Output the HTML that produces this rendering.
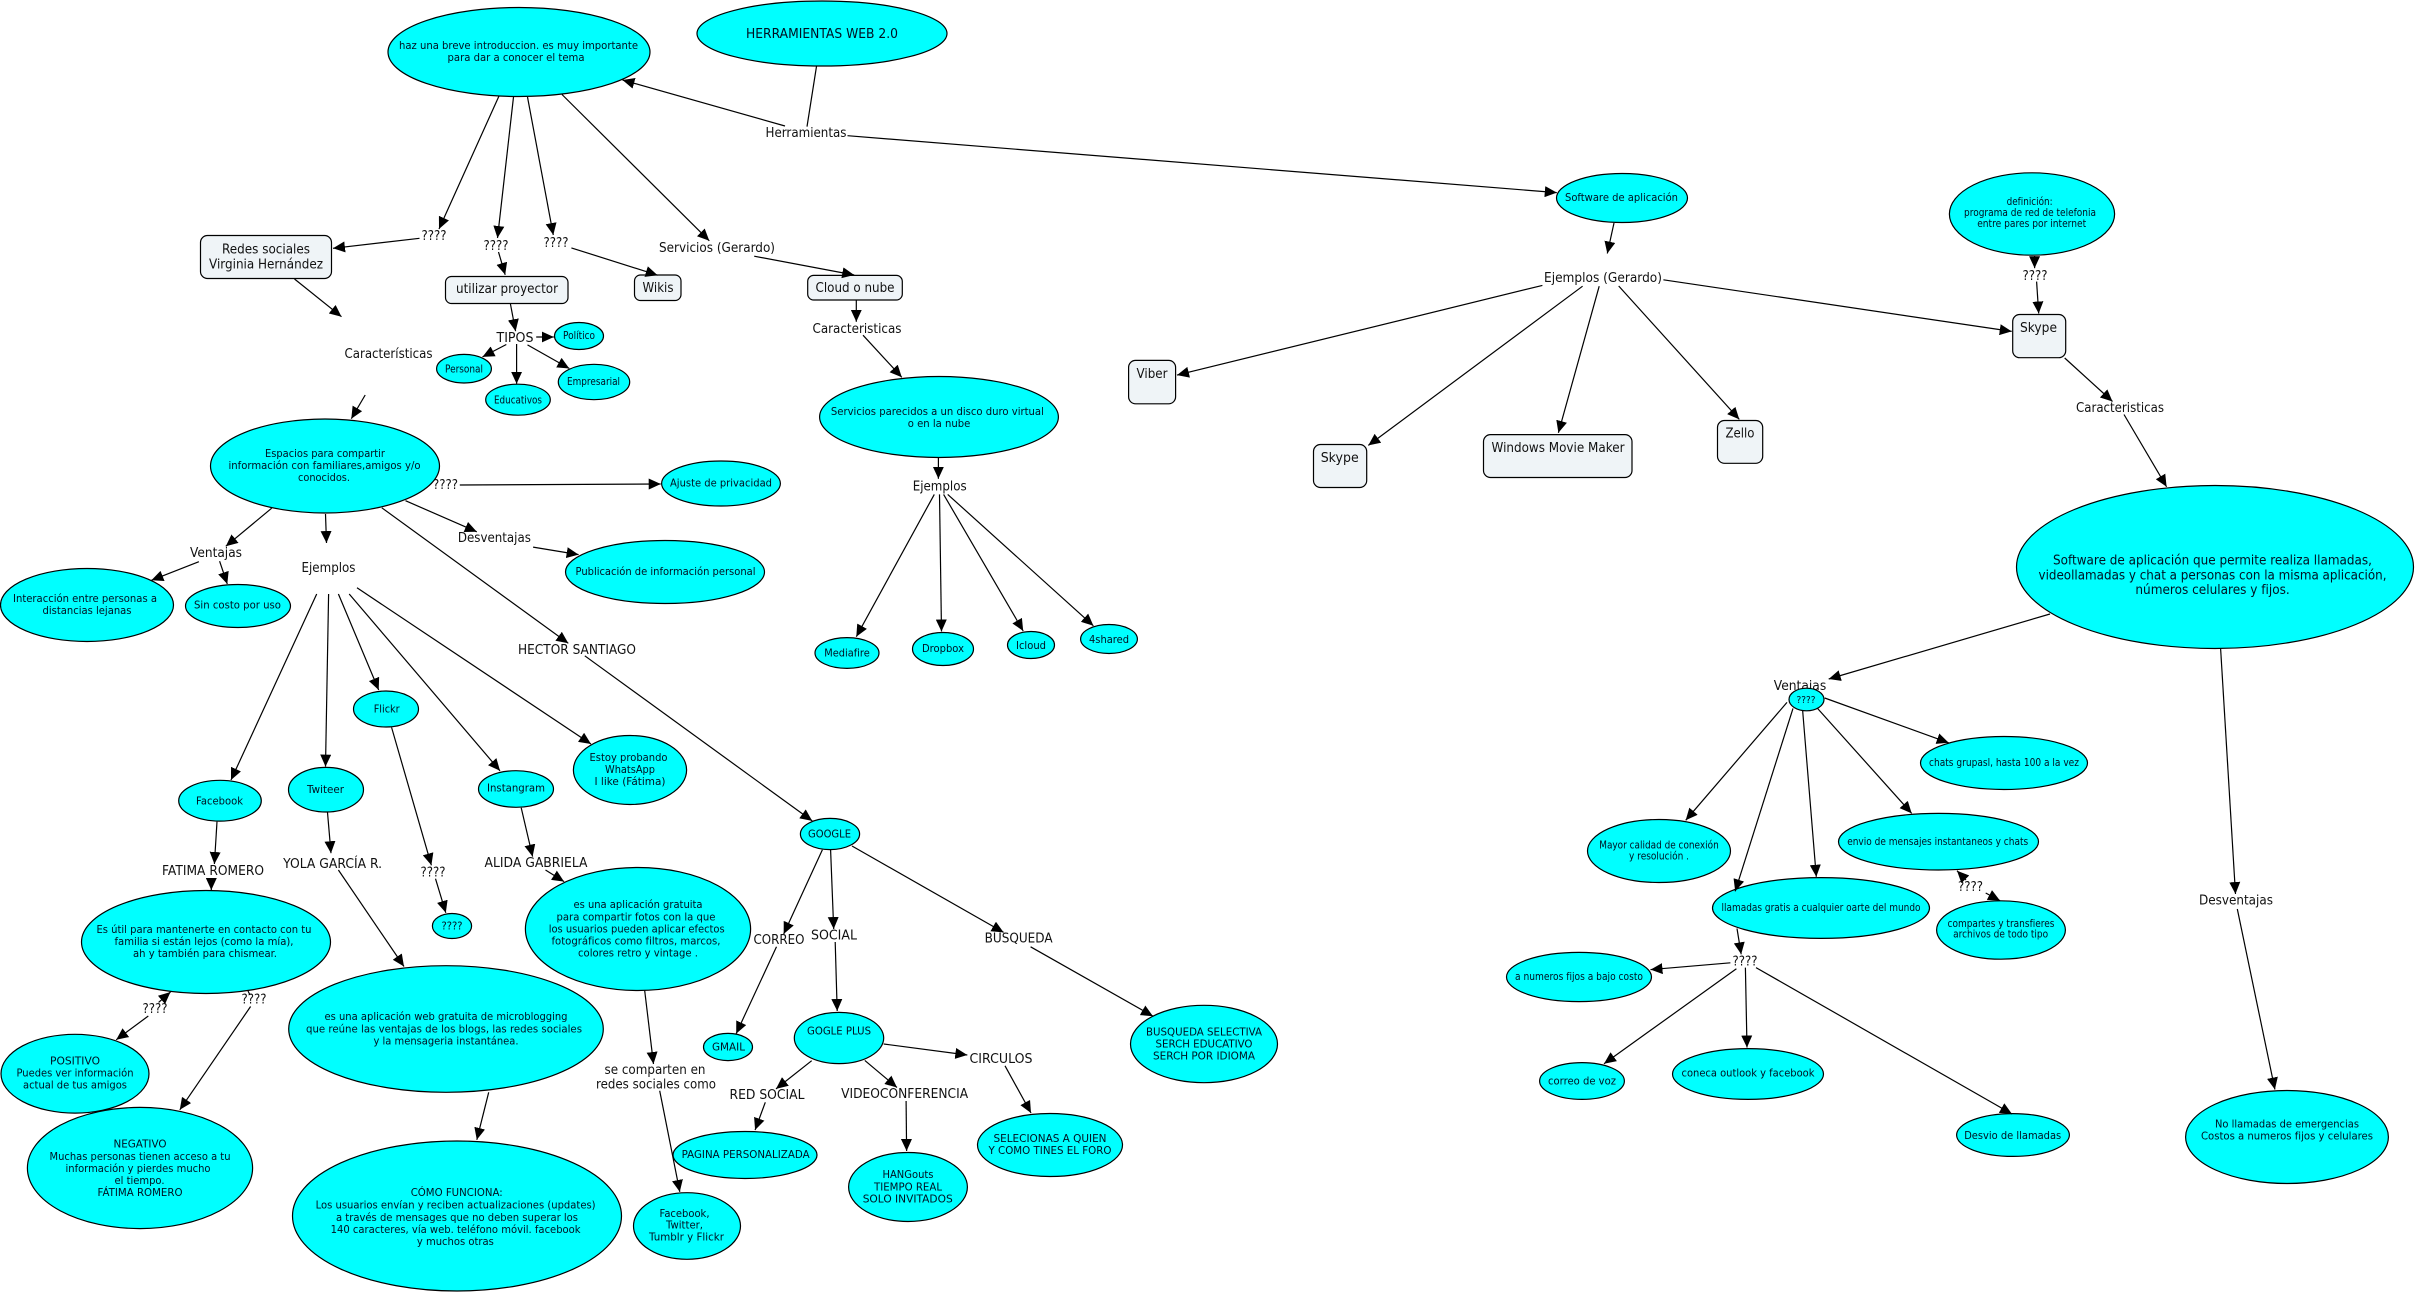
<!DOCTYPE html>
<html lang="es">
<head>
<meta charset="utf-8">
<title>Herramientas Web 2.0</title>
<style>
html,body{margin:0;padding:0;background:#fff;}
svg{display:block;}
text{font-family:"DejaVu Sans","Liberation Sans",sans-serif;text-anchor:middle;fill:#000;}
.s text{font-size:11px;fill:#012;}
.m text{font-size:13px;fill:#111;}
.b text{font-size:13px;fill:#012;}
ellipse{fill:#00ffff;stroke:#000;stroke-width:1.2;}
rect{fill:#eff4f7;stroke:#000;stroke-width:1.2;}
path.l,g.l path{fill:none;stroke:#000;stroke-width:1.2;}
</style>
</head>
<body>
<svg width="2415" height="1293" viewBox="0 0 2415 1293">
<defs>
<marker id="a" markerUnits="userSpaceOnUse" markerWidth="12" markerHeight="11" refX="12" refY="5.5" orient="auto"><path d="M0,0L12,5.5L0,11z" fill="#000"/></marker>
</defs>
<rect width="2415" height="1293" style="fill:#fff;stroke:none"/>

<!-- labels -->
<g class="m">
<text x="806" y="137" textLength="81" lengthAdjust="spacingAndGlyphs">Herramientas</text>
<text x="434" y="240" textLength="25" lengthAdjust="spacingAndGlyphs">????</text>
<text x="496" y="250" textLength="25" lengthAdjust="spacingAndGlyphs">????</text>
<text x="556" y="247" textLength="25" lengthAdjust="spacingAndGlyphs">????</text>
<text x="717" y="252" textLength="116" lengthAdjust="spacingAndGlyphs">Servicios (Gerardo)</text>
<text x="857" y="333" textLength="89" lengthAdjust="spacingAndGlyphs">Caracteristicas</text>
<text x="388.5" y="358" textLength="88" lengthAdjust="spacingAndGlyphs">Características</text>
<text x="515" y="342" textLength="37" lengthAdjust="spacingAndGlyphs">TIPOS</text>
<text x="445.5" y="489" textLength="25" lengthAdjust="spacingAndGlyphs">????</text>
<text x="494.4" y="542" textLength="73" lengthAdjust="spacingAndGlyphs">Desventajas</text>
<text x="216" y="557" textLength="52" lengthAdjust="spacingAndGlyphs">Ventajas</text>
<text x="328.5" y="572" textLength="54" lengthAdjust="spacingAndGlyphs">Ejemplos</text>
<text x="577" y="654" textLength="118" lengthAdjust="spacingAndGlyphs">HECTOR SANTIAGO</text>
<text x="213" y="875" textLength="102" lengthAdjust="spacingAndGlyphs">FATIMA ROMERO</text>
<text x="332.6" y="868" textLength="99" lengthAdjust="spacingAndGlyphs">YOLA GARCÍA R.</text>
<text x="433" y="876.6" textLength="25" lengthAdjust="spacingAndGlyphs">????</text>
<text x="536" y="867" textLength="103" lengthAdjust="spacingAndGlyphs">ALIDA GABRIELA</text>
<text x="155" y="1013" textLength="25" lengthAdjust="spacingAndGlyphs">????</text>
<text x="254" y="1003.6" textLength="25" lengthAdjust="spacingAndGlyphs">????</text>
<text x="655" y="1074" textLength="101" lengthAdjust="spacingAndGlyphs">se comparten en</text>
<text x="656" y="1088.6" textLength="120" lengthAdjust="spacingAndGlyphs">redes sociales como</text>
<text x="779" y="944" textLength="51" lengthAdjust="spacingAndGlyphs">CORREO</text>
<text x="834" y="939.5" textLength="46" lengthAdjust="spacingAndGlyphs">SOCIAL</text>
<text x="1018.6" y="942.5" textLength="68" lengthAdjust="spacingAndGlyphs">BUSQUEDA</text>
<text x="1001" y="1063" textLength="63" lengthAdjust="spacingAndGlyphs">CIRCULOS</text>
<text x="767" y="1099" textLength="75" lengthAdjust="spacingAndGlyphs">RED SOCIAL</text>
<text x="904.6" y="1098" textLength="127" lengthAdjust="spacingAndGlyphs">VIDEOCONFERENCIA</text>
<text x="939.7" y="490.5" textLength="54" lengthAdjust="spacingAndGlyphs">Ejemplos</text>
<text x="1603" y="282" textLength="118" lengthAdjust="spacingAndGlyphs">Ejemplos (Gerardo)</text>
<text x="2035" y="280" textLength="25" lengthAdjust="spacingAndGlyphs">????</text>
<text x="2120" y="412" textLength="88" lengthAdjust="spacingAndGlyphs">Caracteristicas</text>
<text x="1800" y="690" textLength="52.5" lengthAdjust="spacingAndGlyphs">Ventajas</text>
<text x="1970.5" y="891" textLength="25" lengthAdjust="spacingAndGlyphs">????</text>
<text x="2236" y="904.6" textLength="74" lengthAdjust="spacingAndGlyphs">Desventajas</text>
<text x="1745" y="965.6" textLength="25" lengthAdjust="spacingAndGlyphs">????</text>
</g>

<!-- rounded rects -->
<rect x="200.5" y="235.5" width="131" height="43" rx="7"/>
<rect x="445.5" y="276.5" width="122.5" height="27" rx="6"/>
<rect x="634.5" y="275" width="46.5" height="25.5" rx="6"/>
<rect x="807.7" y="275.4" width="94.6" height="24.6" rx="6"/>
<rect x="1128.6" y="360.4" width="47" height="43.4" rx="7"/>
<rect x="1313.5" y="444.5" width="53.2" height="43" rx="7"/>
<rect x="1483.5" y="434.6" width="148.5" height="42.9" rx="7"/>
<rect x="1717.5" y="420.5" width="45.2" height="42.8" rx="7"/>
<rect x="2012.7" y="314.5" width="53" height="43.2" rx="7"/>

<!-- ellipses -->
<ellipse cx="519" cy="52" rx="131" ry="44.5"/>
<ellipse cx="822" cy="33.5" rx="125" ry="32.5"/>
<ellipse cx="579" cy="336" rx="24.5" ry="13.5"/>
<ellipse cx="464" cy="368.7" rx="27.4" ry="14.3"/>
<ellipse cx="518" cy="399.7" rx="32.3" ry="15.5"/>
<ellipse cx="594" cy="382" rx="35.7" ry="17.7"/>
<ellipse cx="325" cy="466" rx="114.5" ry="47"/>
<ellipse cx="721" cy="483.5" rx="59.4" ry="22.5"/>
<ellipse cx="665" cy="572" rx="99.5" ry="31.5"/>
<ellipse cx="87" cy="605" rx="86.5" ry="36.5"/>
<ellipse cx="238" cy="606" rx="52.5" ry="21.5"/>
<ellipse cx="220" cy="800.7" rx="41.3" ry="20.4"/>
<ellipse cx="326" cy="789.7" rx="37.5" ry="22.3"/>
<ellipse cx="386" cy="709" rx="32.5" ry="18"/>
<ellipse cx="516" cy="789" rx="37.5" ry="18.3"/>
<ellipse cx="630" cy="770" rx="56.6" ry="34.5"/>
<ellipse cx="452" cy="926" rx="19.6" ry="12.5"/>
<ellipse cx="206" cy="942" rx="124.5" ry="51.5"/>
<ellipse cx="75" cy="1073.7" rx="74" ry="39.4"/>
<ellipse cx="140" cy="1168" rx="112.6" ry="60.6"/>
<ellipse cx="446" cy="1029" rx="157.3" ry="63.3"/>
<ellipse cx="457" cy="1216" rx="164.5" ry="75"/>
<ellipse cx="638" cy="929" rx="112.6" ry="61.5"/>
<ellipse cx="687" cy="1226" rx="53.5" ry="33.3"/>
<ellipse cx="830" cy="834" rx="29.6" ry="15.6"/>
<ellipse cx="728" cy="1047" rx="24.5" ry="13.6"/>
<ellipse cx="839" cy="1038" rx="44.7" ry="25.6"/>
<ellipse cx="745" cy="1155" rx="72" ry="23.5"/>
<ellipse cx="908" cy="1187" rx="59.4" ry="34.5"/>
<ellipse cx="1050" cy="1145" rx="72.5" ry="31.5"/>
<ellipse cx="1204" cy="1044" rx="73.5" ry="38.7"/>
<ellipse cx="1622" cy="198" rx="65.5" ry="24.5"/>
<ellipse cx="939" cy="417" rx="119.4" ry="40.5"/>
<ellipse cx="847" cy="653" rx="32" ry="15.4"/>
<ellipse cx="943" cy="649" rx="30.5" ry="16.5"/>
<ellipse cx="1031" cy="645" rx="23.5" ry="13.5"/>
<ellipse cx="1109" cy="639" rx="28.4" ry="14.5"/>
<ellipse cx="2032" cy="214" rx="82.6" ry="41.2"/>
<ellipse cx="2215" cy="567" rx="198.5" ry="81.5"/>
<ellipse cx="1806.5" cy="699.5" rx="17.5" ry="11.3"/>
<ellipse cx="2004" cy="763" rx="83.5" ry="26.5"/>
<ellipse cx="1659" cy="851" rx="71.5" ry="31.5"/>
<ellipse cx="1938.5" cy="841.7" rx="100" ry="28.3"/>
<ellipse cx="1821" cy="908" rx="108.5" ry="30.4"/>
<ellipse cx="2001" cy="930" rx="64.4" ry="29.2"/>
<ellipse cx="1579" cy="977" rx="72.5" ry="24.6"/>
<ellipse cx="1582" cy="1081" rx="42.4" ry="18.4"/>
<ellipse cx="1748" cy="1074" rx="75.5" ry="25.4"/>
<ellipse cx="2013" cy="1135" rx="56.4" ry="21.4"/>
<ellipse cx="2287" cy="1137" rx="101.4" ry="46.5"/>

<!-- connectors without arrowhead -->
<g class="l">
<path d="M816.5 66.4L807 126.6"/>
<path d="M248 991L250 995"/>
</g>
<!-- connectors with arrowhead -->
<g class="l" marker-end="url(#a)">
<path d="M785 126L622.5 80"/>
<path d="M847.5 135.7L1556.8 192.6"/>
<path d="M499 96L439 229"/>
<path d="M513.5 97L497.5 238"/>
<path d="M527.5 97L553.3 235"/>
<path d="M562 94.5L709.3 240.8"/>
<path d="M419.5 238.3L333 248.3"/>
<path d="M498.5 252L505.2 274.8"/>
<path d="M571.4 247.9L657.6 275.2"/>
<path d="M754.2 256.2L854.2 275"/>
<path d="M294.5 279L341.5 316.7"/>
<path d="M365.2 395L351.3 418.7"/>
<path d="M510.4 303.8L515.6 331.2"/>
<path d="M536.2 337L553.8 337"/>
<path d="M506.3 344.5L482.5 356.9"/>
<path d="M516.6 344L516.6 383.8"/>
<path d="M527.5 344.9L569.3 368.5"/>
<path d="M459.8 485L660.7 484"/>
<path d="M271.7 508.2L225.8 546.3"/>
<path d="M325.5 514L326.5 543"/>
<path d="M405.5 500.7L476.8 531.8"/>
<path d="M381.8 507.8L568.3 643.3"/>
<path d="M533.1 547.1L578.6 554.6"/>
<path d="M198.9 561.7L151.4 580.3"/>
<path d="M219.6 561.2L227.3 584"/>
<path d="M316.7 594L231 780"/>
<path d="M328.6 594L325.5 766.6"/>
<path d="M338.4 594L378.7 690"/>
<path d="M349.2 594L500 770.8"/>
<path d="M357 587.8L591 744"/>
<path d="M584.8 655.8L812.2 820.9"/>
<path d="M217 821.6L214.4 864"/>
<path d="M211.3 878L211.3 890"/>
<path d="M327.5 812.4L331 853.2"/>
<path d="M338.4 870L404 966.5"/>
<path d="M391.6 727.5L431.4 865.3"/>
<path d="M435.5 878.7L445.8 912.8"/>
<path d="M521.2 807.8L532.6 856.6"/>
<path d="M545.5 870L564.1 881.6"/>
<path d="M158.6 1002.4L170.5 992"/>
<path d="M148.3 1016L116.2 1039.8"/>
<path d="M250.6 1006.5L179.8 1109.8"/>
<path d="M488.7 1092.3L476.8 1139.8"/>
<path d="M644.7 990.7L653.5 1064"/>
<path d="M659.7 1090.7L679.8 1191.9"/>
<path d="M822.4 849.7L783.7 934"/>
<path d="M776.5 946.8L736.2 1033.6"/>
<path d="M830.6 850L833.7 929"/>
<path d="M835.2 942L837.2 1011"/>
<path d="M852 846L1003.6 932.4"/>
<path d="M1030.6 946.8L1153 1016.2"/>
<path d="M883.7 1044L967.3 1055"/>
<path d="M1005 1065.8L1031 1113"/>
<path d="M811.7 1060.7L776 1088.9"/>
<path d="M765.3 1102.3L755.1 1130"/>
<path d="M864.8 1060.4L897 1087.5"/>
<path d="M906.1 1101L906.6 1151"/>
<path d="M856.3 300.5L856.3 321.8"/>
<path d="M863 335.2L901.8 377.3"/>
<path d="M938.4 457.5L938.4 478.8"/>
<path d="M934.3 494.4L856.3 636.7"/>
<path d="M939.5 494.4L941.5 631.5"/>
<path d="M943.6 494.4L1023.2 631"/>
<path d="M947.7 494.4L1093.4 625.8"/>
<path d="M1614 223L1607.3 253.5"/>
<path d="M1542.4 285.4L1177 375.1"/>
<path d="M1582.6 286.2L1368.3 445.4"/>
<path d="M1599.2 286.2L1558.4 432.8"/>
<path d="M1618.7 286L1739.3 419.4"/>
<path d="M1663.4 279.8L2011.7 331.4"/>
<path d="M2034.6 256L2034.6 268.2"/>
<path d="M2036.6 281.6L2038.7 313.5"/>
<path d="M2064.7 358L2112.5 401.5"/>
<path d="M2124 414.5L2166.6 486.8"/>
<path d="M2050 614L1828.7 679"/>
<path d="M2220.6 648.5L2235.5 894"/>
<path d="M2237.3 909L2274.9 1089.5"/>
<path d="M1787 702.4L1685.7 820.3"/>
<path d="M1793 708.4L1735.2 891.3"/>
<path d="M1802.6 710L1816.3 876.8"/>
<path d="M1817.5 708.4L1911.7 813.4"/>
<path d="M1824.7 698L1948.7 742.8"/>
<path d="M1737 928.5L1741.2 954.3"/>
<path d="M1730.4 962.8L1650.5 969.6"/>
<path d="M1736.4 968.8L1604 1063.7"/>
<path d="M1745.4 967.6L1747 1047.5"/>
<path d="M1756 967.6L2012 1114"/>
<path d="M1966 880L1957 870.7"/>
<path d="M1985.7 893L2000 900.6"/>
</g>

<!-- node text: rects -->
<g class="m">
<text x="266" y="253.7" textLength="88" lengthAdjust="spacingAndGlyphs">Redes sociales</text>
<text x="266" y="268.5" textLength="114" lengthAdjust="spacingAndGlyphs">Virginia Hernández</text>
<text x="507" y="293" textLength="102" lengthAdjust="spacingAndGlyphs">utilizar proyector</text>
<text x="658" y="292" textLength="31" lengthAdjust="spacingAndGlyphs">Wikis</text>
<text x="855" y="292" textLength="79" lengthAdjust="spacingAndGlyphs">Cloud o nube</text>
<text x="1152" y="378" textLength="31" lengthAdjust="spacingAndGlyphs">Viber</text>
<text x="1339.7" y="462" textLength="38" lengthAdjust="spacingAndGlyphs">Skype</text>
<text x="1558" y="452" textLength="133" lengthAdjust="spacingAndGlyphs">Windows Movie Maker</text>
<text x="1740" y="437.7" textLength="29" lengthAdjust="spacingAndGlyphs">Zello</text>
<text x="2038.5" y="332" textLength="37" lengthAdjust="spacingAndGlyphs">Skype</text>
</g>

<!-- node text: ellipses -->
<g class="s">
<text x="518.5" y="49" textLength="239" lengthAdjust="spacingAndGlyphs">haz una breve introduccion. es muy importante</text>
<text x="516" y="61" textLength="137" lengthAdjust="spacingAndGlyphs">para dar a conocer el tema</text>
<text x="579" y="339" textLength="32" lengthAdjust="spacingAndGlyphs">Político</text>
<text x="464" y="372.6" textLength="38" lengthAdjust="spacingAndGlyphs">Personal</text>
<text x="518" y="403.7" textLength="48" lengthAdjust="spacingAndGlyphs">Educativos</text>
<text x="593.5" y="385" textLength="53" lengthAdjust="spacingAndGlyphs">Empresarial</text>
<text x="325" y="457" textLength="120" lengthAdjust="spacingAndGlyphs">Espacios para compartir</text>
<text x="324.5" y="469" textLength="192" lengthAdjust="spacingAndGlyphs">información con familiares,amigos y/o</text>
<text x="324" y="481" textLength="52" lengthAdjust="spacingAndGlyphs">conocidos.</text>
<text x="721" y="486.5" textLength="102" lengthAdjust="spacingAndGlyphs">Ajuste de privacidad</text>
<text x="665.5" y="575" textLength="180" lengthAdjust="spacingAndGlyphs">Publicación de información personal</text>
<text x="85" y="602" textLength="144" lengthAdjust="spacingAndGlyphs">Interacción entre personas a</text>
<text x="87" y="614" textLength="89" lengthAdjust="spacingAndGlyphs">distancias lejanas</text>
<text x="237.5" y="608.5" textLength="87" lengthAdjust="spacingAndGlyphs">Sin costo por uso</text>
<text x="219.5" y="804.5" textLength="47" lengthAdjust="spacingAndGlyphs">Facebook</text>
<text x="325.5" y="793" textLength="37" lengthAdjust="spacingAndGlyphs">Twiteer</text>
<text x="386.7" y="712.5" textLength="26" lengthAdjust="spacingAndGlyphs">Flickr</text>
<text x="516" y="791.5" textLength="58" lengthAdjust="spacingAndGlyphs">Instangram</text>
<text x="628.5" y="760.8" textLength="78" lengthAdjust="spacingAndGlyphs">Estoy probando</text>
<text x="630" y="773" textLength="50" lengthAdjust="spacingAndGlyphs">WhatsApp</text>
<text x="630" y="785" textLength="71" lengthAdjust="spacingAndGlyphs">I like (Fátima)</text>
<text x="452" y="929.5" textLength="21" lengthAdjust="spacingAndGlyphs">????</text>
<text x="204" y="933" textLength="215" lengthAdjust="spacingAndGlyphs">Es útil para mantenerte en contacto con tu</text>
<text x="204" y="945" textLength="179" lengthAdjust="spacingAndGlyphs">familia si están lejos (como la mía),</text>
<text x="205" y="957" textLength="144" lengthAdjust="spacingAndGlyphs">ah y también para chismear.</text>
<text x="75" y="1064.4" textLength="50" lengthAdjust="spacingAndGlyphs">POSITIVO</text>
<text x="75" y="1076.5" textLength="117" lengthAdjust="spacingAndGlyphs">Puedes ver información</text>
<text x="75" y="1088.6" textLength="104" lengthAdjust="spacingAndGlyphs">actual de tus amigos</text>
<text x="140" y="1147.3" textLength="53" lengthAdjust="spacingAndGlyphs">NEGATIVO</text>
<text x="140" y="1159.8" textLength="181" lengthAdjust="spacingAndGlyphs">Muchas personas tienen acceso a tu</text>
<text x="138" y="1172" textLength="145" lengthAdjust="spacingAndGlyphs">información y pierdes mucho</text>
<text x="139.5" y="1184" textLength="50" lengthAdjust="spacingAndGlyphs">el tiempo.</text>
<text x="140" y="1196" textLength="85" lengthAdjust="spacingAndGlyphs">FÁTIMA ROMERO</text>
<text x="446" y="1020" textLength="243" lengthAdjust="spacingAndGlyphs">es una aplicación web gratuita de microblogging</text>
<text x="444" y="1032.3" textLength="276" lengthAdjust="spacingAndGlyphs">que reúne las ventajas de los blogs, las redes sociales</text>
<text x="446" y="1044.4" textLength="145" lengthAdjust="spacingAndGlyphs">y la mensageria instantánea.</text>
<text x="456.7" y="1196" textLength="92" lengthAdjust="spacingAndGlyphs">CÓMO FUNCIONA:</text>
<text x="455.6" y="1208.5" textLength="280" lengthAdjust="spacingAndGlyphs">Los usuarios envían y reciben actualizaciones (updates)</text>
<text x="457" y="1221" textLength="242" lengthAdjust="spacingAndGlyphs">a través de mensages que no deben superar los</text>
<text x="455.6" y="1233" textLength="250" lengthAdjust="spacingAndGlyphs">140 caracteres, vía web. teléfono móvil. facebook</text>
<text x="455.4" y="1245" textLength="77" lengthAdjust="spacingAndGlyphs">y muchos otras</text>
<text x="638" y="908" textLength="129" lengthAdjust="spacingAndGlyphs">es una aplicación gratuita</text>
<text x="636" y="920.3" textLength="159" lengthAdjust="spacingAndGlyphs">para compartir fotos con la que</text>
<text x="636.7" y="932.4" textLength="176" lengthAdjust="spacingAndGlyphs">los usuarios pueden aplicar efectos</text>
<text x="636" y="944.5" textLength="169" lengthAdjust="spacingAndGlyphs">fotográficos como filtros, marcos,</text>
<text x="638" y="956.5" textLength="120" lengthAdjust="spacingAndGlyphs">colores retro y vintage .</text>
<text x="684.5" y="1217" textLength="50" lengthAdjust="spacingAndGlyphs">Facebook,</text>
<text x="684.5" y="1228.5" textLength="37" lengthAdjust="spacingAndGlyphs">Twitter,</text>
<text x="686.5" y="1240.6" textLength="75" lengthAdjust="spacingAndGlyphs">Tumblr y Flickr</text>
<text x="829.5" y="837.6" textLength="43" lengthAdjust="spacingAndGlyphs">GOOGLE</text>
<text x="728.5" y="1050.7" textLength="33" lengthAdjust="spacingAndGlyphs">GMAIL</text>
<text x="839" y="1034.6" textLength="64" lengthAdjust="spacingAndGlyphs">GOGLE PLUS</text>
<text x="745.6" y="1158" textLength="128" lengthAdjust="spacingAndGlyphs">PAGINA PERSONALIZADA</text>
<text x="908" y="1178" textLength="51" lengthAdjust="spacingAndGlyphs">HANGouts</text>
<text x="908" y="1190.4" textLength="68" lengthAdjust="spacingAndGlyphs">TIEMPO REAL</text>
<text x="907.7" y="1202.4" textLength="90" lengthAdjust="spacingAndGlyphs">SOLO INVITADOS</text>
<text x="1050" y="1142" textLength="113" lengthAdjust="spacingAndGlyphs">SELECIONAS A QUIEN</text>
<text x="1050" y="1154" textLength="123" lengthAdjust="spacingAndGlyphs">Y COMO TINES EL FORO</text>
<text x="1204" y="1035.6" textLength="116" lengthAdjust="spacingAndGlyphs">BUSQUEDA SELECTIVA</text>
<text x="1204" y="1047.7" textLength="97" lengthAdjust="spacingAndGlyphs">SERCH EDUCATIVO</text>
<text x="1204" y="1059.7" textLength="102" lengthAdjust="spacingAndGlyphs">SERCH POR IDIOMA</text>
<text x="1621.5" y="201" textLength="113" lengthAdjust="spacingAndGlyphs">Software de aplicación</text>
<text x="937.4" y="415" textLength="213" lengthAdjust="spacingAndGlyphs">Servicios parecidos a un disco duro virtual</text>
<text x="939" y="427" textLength="62.5" lengthAdjust="spacingAndGlyphs">o en la nube</text>
<text x="847" y="656.6" textLength="45.5" lengthAdjust="spacingAndGlyphs">Mediafire</text>
<text x="943" y="652" textLength="42" lengthAdjust="spacingAndGlyphs">Dropbox</text>
<text x="1031" y="649" textLength="30" lengthAdjust="spacingAndGlyphs">Icloud</text>
<text x="1109" y="643" textLength="40" lengthAdjust="spacingAndGlyphs">4shared</text>
<text x="2029.6" y="205" textLength="46" lengthAdjust="spacingAndGlyphs">definición:</text>
<text x="2030" y="216" textLength="132" lengthAdjust="spacingAndGlyphs">programa de red de telefonia</text>
<text x="2031.7" y="226.8" textLength="109" lengthAdjust="spacingAndGlyphs">entre pares por internet</text>
<text x="1806" y="702.8" textLength="19" lengthAdjust="spacingAndGlyphs" style="font-size:9.5px">????</text>
<text x="2004" y="766" textLength="150" lengthAdjust="spacingAndGlyphs">chats grupasl, hasta 100 a la vez</text>
<text x="1659" y="848.5" textLength="119.5" lengthAdjust="spacingAndGlyphs">Mayor calidad de conexión</text>
<text x="1659" y="859.4" textLength="60" lengthAdjust="spacingAndGlyphs">y resolución .</text>
<text x="1937.7" y="845" textLength="181" lengthAdjust="spacingAndGlyphs">envio de mensajes instantaneos y chats</text>
<text x="1821" y="911" textLength="199" lengthAdjust="spacingAndGlyphs">llamadas gratis a cualquier oarte del mundo</text>
<text x="2001" y="926.8" textLength="107" lengthAdjust="spacingAndGlyphs">compartes y transfieres</text>
<text x="2000.6" y="937.7" textLength="95" lengthAdjust="spacingAndGlyphs">archivos de todo tipo</text>
<text x="1579" y="980" textLength="128" lengthAdjust="spacingAndGlyphs">a numeros fijos a bajo costo</text>
<text x="1582" y="1084.7" textLength="68" lengthAdjust="spacingAndGlyphs">correo de voz</text>
<text x="1748" y="1076.6" textLength="133" lengthAdjust="spacingAndGlyphs">coneca outlook y facebook</text>
<text x="2012.7" y="1138.8" textLength="97" lengthAdjust="spacingAndGlyphs">Desvio de llamadas</text>
<text x="2287" y="1127.5" textLength="144" lengthAdjust="spacingAndGlyphs">No llamadas de emergencias</text>
<text x="2287" y="1139.6" textLength="172" lengthAdjust="spacingAndGlyphs">Costos a numeros fijos y celulares</text>
</g>
<g class="b">
<text x="822" y="38" textLength="152" lengthAdjust="spacingAndGlyphs">HERRAMIENTAS WEB 2.0</text>
<text x="2212.5" y="564.6" textLength="319" lengthAdjust="spacingAndGlyphs">Software de aplicación que permite realiza llamadas,</text>
<text x="2212.5" y="579.4" textLength="348" lengthAdjust="spacingAndGlyphs">videollamadas y chat a personas con la misma aplicación,</text>
<text x="2212.6" y="594" textLength="154.4" lengthAdjust="spacingAndGlyphs">números celulares y fijos.</text>
</g>
</svg>
</body>
</html>
